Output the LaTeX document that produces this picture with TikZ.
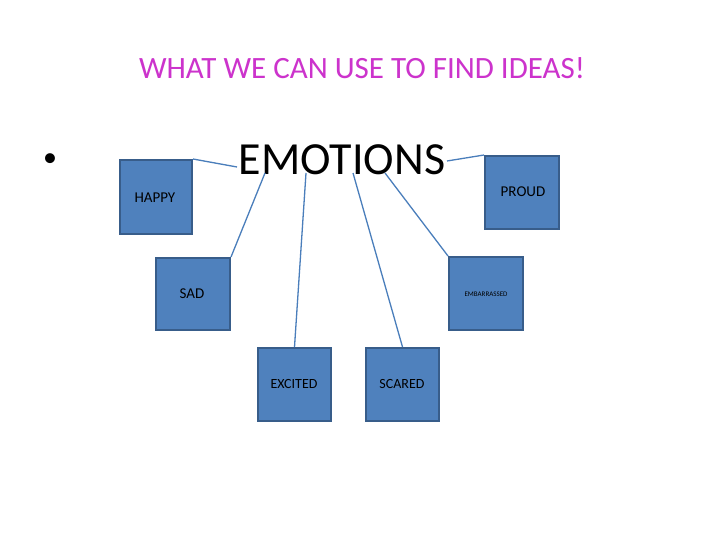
\documentclass[tikz,border=0pt]{standalone}
\usepackage{fontspec}
\setmainfont{Carlito}
\begin{document}
\begin{tikzpicture}[x=1pt,y=-1pt,
  box/.style={draw={rgb,255:red,56;green,93;blue,138},line width=2pt,fill={rgb,255:red,79;green,129;blue,189},inner sep=0pt},
  conn/.style={draw={rgb,255:red,74;green,126;blue,187},line width=1.3pt}]
\path[use as bounding box,fill=white] (0,0) rectangle (720,540);
\node[text={rgb,255:red,204;green,51;blue,204},font=\fontsize{31}{31}\selectfont] (title) at (362,68) {WHAT WE CAN USE TO FIND IDEAS!};
\node[font=\fontsize{28}{28}\selectfont] (bul) at (50,160) {•};
\node[font=\fontsize{46}{46}\selectfont,inner sep=0pt] (emo) at (342,160) {EMOTIONS};
\node[box,minimum width=72,minimum height=74] (happy) at (156,197) {};
\node[anchor=west,font=\fontsize{15}{15}\selectfont] (th) at (131,198) {HAPPY};
\node[box,minimum width=74,minimum height=73] (proud) at (522,192.5) {};
\node[font=\fontsize{15}{15}\selectfont] (tp) at (523,192) {PROUD};
\node[box,minimum width=74,minimum height=72] (sad) at (193,294) {};
\node[font=\fontsize{15}{15}\selectfont] (ts) at (192,294) {SAD};
\node[box,minimum width=74,minimum height=73] (emb) at (486,293.5) {};
\node[font=\fontsize{7}{7}\selectfont] (te) at (486,294) {EMBARRASSED};
\node[box,minimum width=73,minimum height=73] (exc) at (294.5,384.5) {};
\node[font=\fontsize{14}{14}\selectfont] (tx) at (294,384) {EXCITED};
\node[box,minimum width=73,minimum height=73] (sca) at (402.5,384.5) {};
\node[font=\fontsize{14}{14}\selectfont] (tc) at (402,384) {SCARED};
\coordinate (a1) at (237,167);
\coordinate (a2) at (265,173);
\coordinate (a3) at (306,173);
\coordinate (a4) at (353,173);
\coordinate (a5) at (385,173);
\coordinate (a6) at (447,161);
\draw[conn] (a1) -- (happy.north east);
\draw[conn] (a2) -- (sad.north east);
\draw[conn] (a3) -- (exc.north);
\draw[conn] (a4) -- (sca.north);
\draw[conn] (a5) -- (emb.north west);
\draw[conn] (a6) -- (proud.north west);
\end{tikzpicture}
\end{document}
